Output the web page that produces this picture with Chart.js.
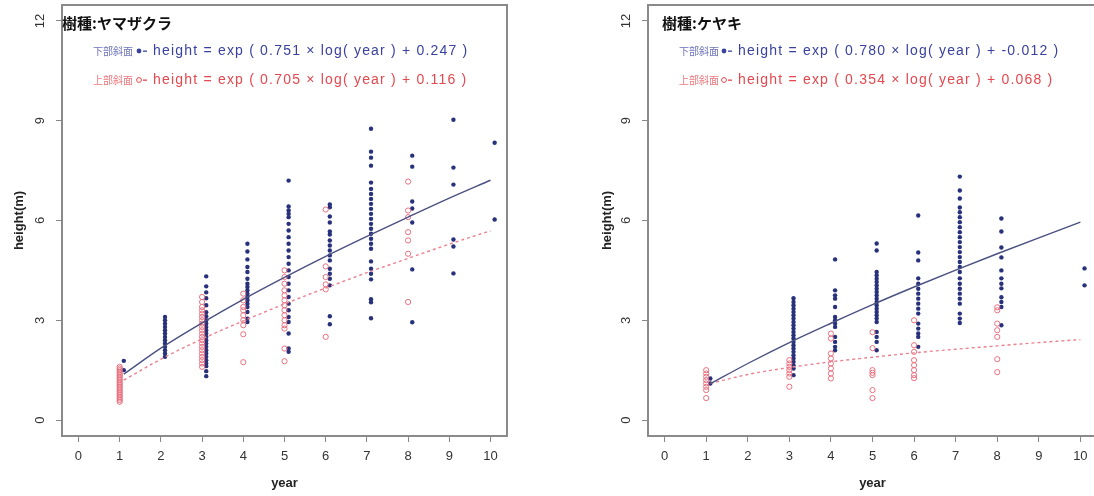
<!DOCTYPE html>
<html>
<head>
<meta charset="utf-8">
<script src="https://cdn.jsdelivr.net/npm/chart.js@4.4.1/dist/chart.umd.min.js"></script>
<style>
  html, body { margin: 0; padding: 0; background: #fff; overflow: hidden; }
  #wrap { position: relative; width: 1094px; height: 496px; overflow: hidden; }
  #c1 { position: absolute; left: 0; top: 0; }
  #c2 { position: absolute; left: 560px; top: 0; }
</style>
</head>
<body>
<div id="wrap">
  <canvas id="c1" width="530" height="496"></canvas>
  <canvas id="c2" width="560" height="496"></canvas>
</div>
<script>
// axis ticks
const xTicks = [0, 1, 2, 3, 4, 5, 6, 7, 8, 9, 10];
const yTicks = [0, 3, 6, 9, 12];
const fitYears = [1.1, 2, 3, 4, 5, 6, 7, 8, 9, 10];

// ヤマザクラ: heights per year (index 0 = year 1)
const sakuraLower = [
  [1.78, 1.5],
  [3.1, 3.0, 2.9, 2.8, 2.7, 2.6, 2.5, 2.4, 2.3, 2.2, 2.1, 2.0, 1.9],
  [4.32, 4.02, 3.84, 3.66, 3.45, 3.24, 3.12, 3.0, 2.9, 2.8, 2.7, 2.6, 2.5, 2.4, 2.3, 2.2, 2.1, 2.0, 1.9, 1.8, 1.7, 1.62, 1.47, 1.32],
  [5.3, 5.07, 4.83, 4.6, 4.45, 4.25, 4.1, 4.0, 3.9, 3.8, 3.7, 3.6, 3.5, 3.4, 3.25, 3.05, 2.95],
  [7.2, 6.42, 6.3, 6.2, 6.1, 5.9, 5.7, 5.5, 5.3, 5.1, 4.9, 4.7, 4.5, 4.3, 4.1, 3.9, 3.7, 3.5, 3.3, 3.1, 2.95, 2.6, 2.15, 2.05],
  [6.48, 6.4, 6.12, 5.94, 5.67, 5.58, 5.4, 5.25, 5.1, 4.95, 4.8, 4.55, 4.4, 4.25, 4.05, 3.12, 2.88],
  [8.76, 8.07, 7.89, 7.65, 7.14, 6.95, 6.8, 6.65, 6.5, 6.35, 6.2, 6.05, 5.9, 5.75, 5.6, 5.45, 5.3, 5.15, 4.77, 4.55, 4.4, 4.23, 3.63, 3.54, 3.06],
  [7.95, 7.62, 6.57, 6.36, 5.94, 4.53, 2.94],
  [9.03, 7.59, 7.08, 5.43, 5.22, 4.41],
  [8.34, 6.03]
];
const sakuraUpper = [
  [1.6, 1.55, 1.5, 1.45, 1.4, 1.35, 1.3, 1.25, 1.2, 1.15, 1.1, 1.05, 1.0, 0.95, 0.9, 0.85, 0.8, 0.75, 0.7, 0.65, 0.6, 0.55],
  [],
  [3.7, 3.55, 3.4, 3.3, 3.2, 3.1, 3.0, 2.9, 2.8, 2.7, 2.6, 2.5, 2.4, 2.3, 2.2, 2.1, 2.0, 1.9, 1.8, 1.7, 1.6],
  [3.8, 3.6, 3.4, 3.3, 3.15, 3.0, 2.85, 2.58, 1.74],
  [4.5, 4.3, 4.1, 3.9, 3.75, 3.6, 3.45, 3.3, 3.15, 3.0, 2.85, 2.75, 2.15, 1.77],
  [6.33, 4.62, 4.3, 4.08, 3.93, 2.5],
  [],
  [7.17, 6.3, 6.1, 5.65, 5.4, 5.0, 3.55],
  [],
  []
];
const sakuraLowerFit = [1.38, 2.16, 2.92, 3.63, 4.29, 4.92, 5.52, 6.10, 6.67, 7.21];
const sakuraUpperFit = [1.20, 1.83, 2.44, 2.98, 3.49, 3.97, 4.43, 4.86, 5.29, 5.69];

// ケヤキ
const keyakiLower = [
  [1.25, 1.1],
  [],
  [3.66, 3.55, 3.45, 3.35, 3.25, 3.15, 3.05, 2.95, 2.85, 2.75, 2.65, 2.55, 2.45, 2.35, 2.25, 2.15, 2.05, 1.95, 1.85, 1.75, 1.65, 1.55, 1.35],
  [4.83, 3.9, 3.75, 3.65, 3.4, 3.1, 3.0, 2.9, 2.8, 2.5, 2.35, 2.2, 2.1],
  [5.31, 5.1, 4.45, 4.35, 4.25, 4.15, 4.05, 3.95, 3.85, 3.75, 3.65, 3.55, 3.45, 3.35, 3.25, 3.15, 3.05, 2.95, 2.65, 2.5, 2.35, 2.1],
  [6.15, 5.04, 4.8, 4.26, 4.1, 3.95, 3.8, 3.65, 3.5, 3.35, 3.2, 2.9, 2.75, 2.6, 2.5, 2.2],
  [7.32, 6.9, 6.66, 6.39, 6.25, 6.1, 5.95, 5.8, 5.65, 5.5, 5.35, 5.2, 5.05, 4.9, 4.75, 4.6, 4.45, 4.26, 4.1, 3.95, 3.8, 3.65, 3.5, 3.2, 3.05, 2.92],
  [6.06, 5.67, 5.19, 4.89, 4.5, 4.26, 4.1, 3.96, 3.69, 3.55, 3.4, 2.85],
  [],
  [4.56, 4.05]
];
const keyakiUpper = [
  [1.5, 1.4, 1.3, 1.2, 1.1, 1.0, 0.9, 0.66],
  [],
  [1.8, 1.7, 1.6, 1.5, 1.4, 1.3, 1.0],
  [2.6, 2.45, 2.0, 1.85, 1.7, 1.55, 1.4, 1.25],
  [2.64, 2.16, 1.5, 1.42, 1.35, 0.9, 0.66],
  [3.0, 2.25, 2.05, 1.8, 1.65, 1.5, 1.35, 1.26],
  [],
  [3.39, 3.3, 2.9, 2.7, 2.5, 1.83, 1.44],
  [],
  []
];
const keyakiLowerFit = [1.09, 1.70, 2.33, 2.91, 3.47, 4.00, 4.51, 5.00, 5.48, 5.95];
const keyakiUpperFit = [1.10, 1.37, 1.58, 1.75, 1.89, 2.02, 2.13, 2.23, 2.33, 2.42];

// texts
const lowerName = '下部斜面';
const upperName = '上部斜面';
const sakuraTitle = '樹種:ヤマザクラ';
const keyakiTitle = '樹種:ケヤキ';
const sakuraLowerEq = 'height = exp ( 0.751 × log( year ) + 0.247 )';
const sakuraUpperEq = 'height = exp ( 0.705 × log( year ) + 0.116 )';
const keyakiLowerEq = 'height = exp ( 0.780 × log( year ) + -0.012 )';
const keyakiUpperEq = 'height = exp ( 0.354 × log( year ) + 0.068 )';

const BLUE = '#28327c';
const RED = '#e9707f';

Chart.defaults.font.family = '"Liberation Sans", Arial, sans-serif';

function toPoints(groups, shift) {
  const out = [];
  groups.forEach((hs, i) => hs.forEach(h => out.push({x: i + 1 + shift, y: h})));
  return out;
}

// box round the plot + title and formulas inside it
const panelText = {
  id: 'panelText',
  afterDraw(chart, args, o) {
    const {ctx, chartArea: a} = chart;
    ctx.save();
    ctx.strokeStyle = '#8a8a8a';
    ctx.lineWidth = 2;
    ctx.strokeRect(a.left, a.top, a.right - a.left, a.bottom - a.top);

    ctx.textBaseline = 'middle';
    ctx.fillStyle = '#111';
    ctx.font = 'bold 15px "Noto Sans CJK JP"';
    ctx.fillText(o.title, o.titleX, 23);

    o.rows.forEach((r, i) => {
      const y = o.rowY[i];
      ctx.fillStyle = r.color;
      ctx.globalAlpha = 0.75;
      ctx.font = '10px "Noto Sans CJK JP"';
      ctx.fillText(r.name, o.nameX, y);
      ctx.globalAlpha = 1;
      ctx.beginPath();
      ctx.arc(o.markX, y, 2.4, 0, Math.PI * 2);
      if (r.filled) { ctx.fill(); } else { ctx.strokeStyle = r.color; ctx.lineWidth = 1; ctx.stroke(); }
      ctx.fillRect(o.markX + 4, y - 0.5, 4, 1.3);
      ctx.font = '14px "Liberation Sans", Arial';
      ctx.letterSpacing = '1.2px';
      ctx.fillText(r.eq, o.eqX, y);
      ctx.letterSpacing = '0px';
    });
    ctx.restore();
  }
};

function makeChart(id, lower, upper, lowerFit, upperFit, text, yAxisWidth, yTitlePad) {
  new Chart(document.getElementById(id), {
    type: 'scatter',
    data: {
      datasets: [
        {
          data: fitYears.map((x, i) => ({x: x, y: lowerFit[i]})),
          showLine: true, borderColor: '#4a5080', borderWidth: 1.4,
          pointRadius: 0, cubicInterpolationMode: 'monotone', order: 0
        },
        {
          data: fitYears.map((x, i) => ({x: x, y: upperFit[i]})),
          showLine: true, borderColor: '#ec8090', borderWidth: 1.4, borderDash: [3, 3],
          pointRadius: 0, cubicInterpolationMode: 'monotone', order: 0
        },
        {
          data: toPoints(upper, 0),
          pointRadius: 2.6, pointStyle: 'circle',
          backgroundColor: 'rgba(255,255,255,0)', borderColor: RED, borderWidth: 1, order: 1
        },
        {
          data: toPoints(lower, 0.1),
          pointRadius: 2.2, pointStyle: 'circle',
          backgroundColor: BLUE, borderWidth: 0, order: 2
        }
      ]
    },
    options: {
      responsive: false,
      animation: false,
      layout: { padding: { top: 5, right: 23, bottom: 0, left: 0 } },
      plugins: {
        legend: { display: false },
        tooltip: { enabled: false },
        panelText: text
      },
      scales: {
        x: {
          type: 'linear', min: -0.4, max: 10.4,
          afterBuildTicks: s => { s.ticks = xTicks.map(v => ({value: v})); },
          afterFit: s => { s.height = 60; s.paddingLeft = 0; s.paddingRight = 0; },
          ticks: { font: { size: 13 }, color: '#333', padding: 7 },
          grid: { drawOnChartArea: false, tickLength: 6, color: '#888' },
          border: { display: false },
          title: { display: true, text: 'year', color: '#222', font: { size: 13, weight: 'bold' }, padding: { top: 0, bottom: 5 } }
        },
        y: {
          type: 'linear', min: -0.48, max: 12.48,
          afterBuildTicks: s => { s.ticks = yTicks.map(v => ({value: v})); },
          afterFit: s => { s.width = yAxisWidth; s.paddingTop = 0; s.paddingBottom = 0; },
          ticks: { font: { size: 13 }, color: '#333', padding: 8, minRotation: 90, maxRotation: 90, crossAlign: 'center' },
          grid: { drawOnChartArea: false, tickLength: 6, color: '#888' },
          border: { display: false },
          title: { display: true, text: 'height(m)', color: '#222', font: { size: 13, weight: 'bold' }, padding: { top: yTitlePad, bottom: 0 } }
        }
      }
    },
    plugins: [panelText]
  });
}

makeChart('c1', sakuraLower, sakuraUpper, sakuraLowerFit, sakuraUpperFit, {
  title: sakuraTitle, titleX: 62, nameX: 93, markX: 139, eqX: 153, rowY: [51, 80],
  rows: [
    { name: lowerName, eq: sakuraLowerEq, color: '#3a42a0', filled: true },
    { name: upperName, eq: sakuraUpperEq, color: '#e5484f', filled: false }
  ]
}, 62, 12);

makeChart('c2', keyakiLower, keyakiUpper, keyakiLowerFit, keyakiUpperFit, {
  title: keyakiTitle, titleX: 102, nameX: 119, markX: 164, eqX: 178, rowY: [51, 80],
  rows: [
    { name: lowerName, eq: keyakiLowerEq, color: '#3a42a0', filled: true },
    { name: upperName, eq: keyakiUpperEq, color: '#e5484f', filled: false }
  ]
}, 88, 40);
</script>
</body>
</html>
